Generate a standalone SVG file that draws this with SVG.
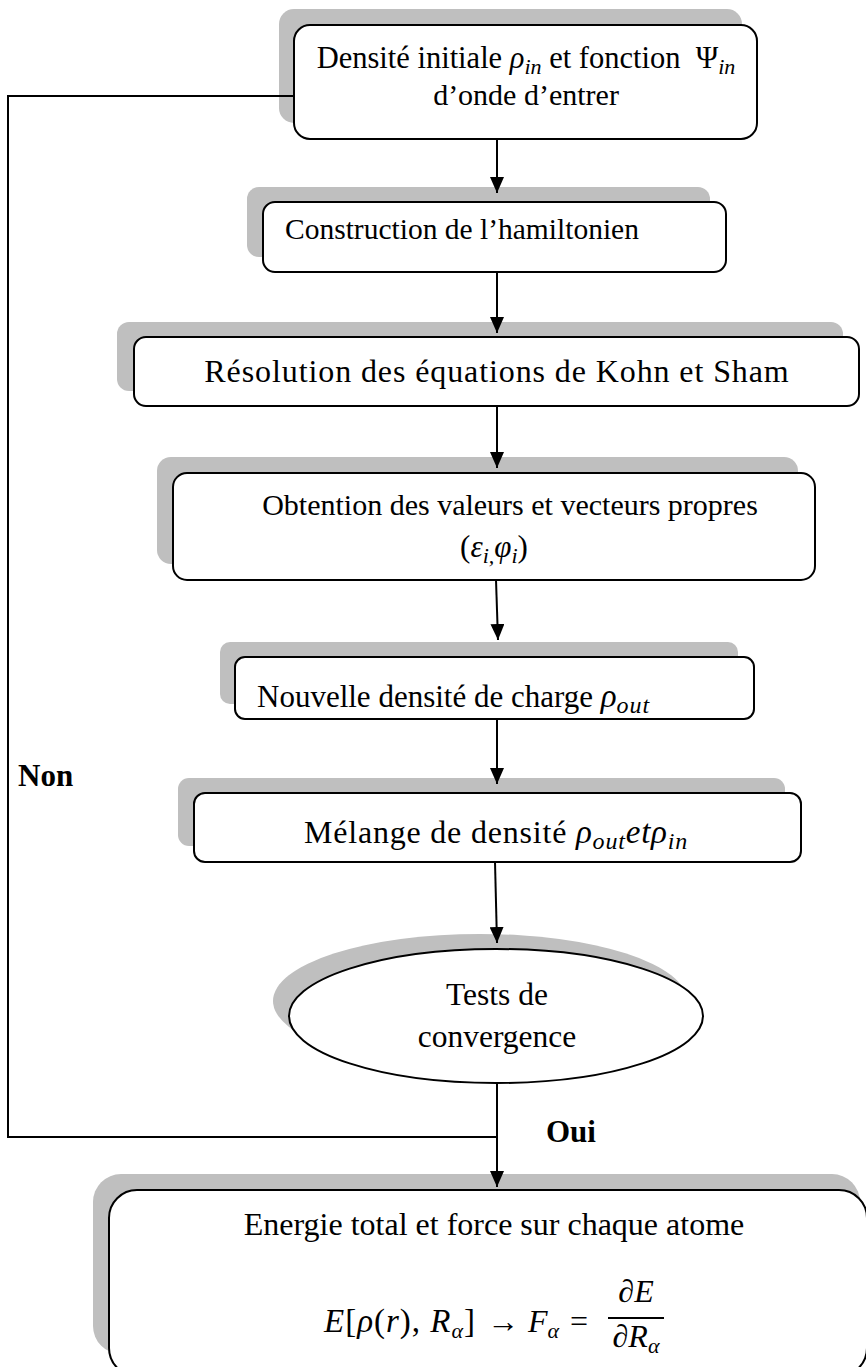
<svg xmlns="http://www.w3.org/2000/svg" width="866" height="1367" viewBox="0 0 866 1367">
<defs>
<style>
.sh{fill:#bfbfbf;stroke:none}
.bx{fill:#fff;stroke:#000;stroke-width:2}
.t{font-family:"Liberation Serif","Times New Roman",serif;font-size:30px;fill:#000}
.c{font-family:"Liberation Serif","Times New Roman",serif;font-size:32px;fill:#000}
.b{font-family:"Liberation Serif","Times New Roman",serif;font-size:31px;font-weight:bold;fill:#000}
.i{font-style:italic}
.s{font-size:22px;font-style:italic}
.ln{fill:none;stroke:#000;stroke-width:2}
</style>
<marker id="ah" viewBox="0 0 16 14" refX="16" refY="7" markerWidth="16" markerHeight="14" markerUnits="userSpaceOnUse" orient="auto">
<path d="M0,0 L16,7 L0,14 z" fill="#000"/>
</marker>
</defs>
<rect width="866" height="1367" fill="#fff"/>

<g id="n1">
<rect class="sh" x="279" y="9" width="463" height="114" rx="15"/>
<rect class="bx" x="294" y="25" width="463" height="114" rx="16"/>
<text class="t" x="526" y="68" text-anchor="middle" style="font-size:30.5px">Densité initiale <tspan class="i">ρ</tspan><tspan class="s" dy="6">in</tspan><tspan dy="-6"> et fonction &#160;Ψ</tspan><tspan class="s" dy="6">in</tspan></text>
<text class="t" x="526" y="105" text-anchor="middle">d’onde d’entrer</text>
</g>

<g id="n2">
<rect class="sh" x="247" y="187" width="463" height="70" rx="12"/>
<rect class="bx" x="263" y="202" width="463" height="70" rx="12"/>
<text class="t" x="285" y="239" style="font-size:29.5px">Construction de l’hamiltonien</text>
</g>

<g id="n3">
<rect class="sh" x="117" y="322" width="726" height="69" rx="12"/>
<rect class="bx" x="134" y="337" width="725" height="69" rx="12"/>
<text class="c" x="497" y="382" text-anchor="middle" letter-spacing="0.9">Résolution des équations de Kohn et Sham</text>
</g>

<g id="n4">
<rect class="sh" x="157" y="457" width="641" height="107" rx="14"/>
<rect class="bx" x="173" y="473" width="642" height="107" rx="14"/>
<text class="t" x="510" y="515" text-anchor="middle">Obtention des valeurs et vecteurs propres</text>
<text class="c" x="494" y="557" text-anchor="middle" style="font-size:31px">(<tspan class="i">ε</tspan><tspan class="s" dy="6">i,</tspan><tspan class="i" dy="-6">φ</tspan><tspan class="s" dy="6">i</tspan><tspan dy="-6">)</tspan></text>
</g>

<g id="n5">
<rect class="sh" x="220" y="642" width="518" height="62" rx="10"/>
<rect class="bx" x="235" y="657" width="519" height="62" rx="10"/>
<text class="t" x="257" y="707" style="font-size:31px">Nouvelle densité de charge <tspan class="i" style="font-size:33px">ρ</tspan><tspan class="s" dy="6" style="font-size:24px" letter-spacing="1">out</tspan></text>
</g>

<g id="n6">
<rect class="sh" x="178" y="778" width="607" height="68" rx="11"/>
<rect class="bx" x="194" y="793" width="607" height="69" rx="11"/>
<text class="c" x="496" y="843" text-anchor="middle" letter-spacing="0.8">Mélange de densité <tspan class="i" style="font-size:33px">ρ</tspan><tspan class="s" dy="6" style="font-size:24px">out</tspan><tspan class="i" dy="-6" style="font-size:33px">etρ</tspan><tspan class="s" dy="6" style="font-size:24px">in</tspan></text>
</g>

<g id="n7">
<ellipse class="sh" cx="480" cy="1001" rx="207" ry="67"/>
<ellipse class="bx" cx="496" cy="1016" rx="207" ry="67"/>
<text class="t" x="497" y="1005" text-anchor="middle" style="font-size:31.5px">Tests de</text>
<text class="t" x="497" y="1047" text-anchor="middle" style="font-size:31.5px">convergence</text>
</g>

<g id="n8">
<rect class="sh" x="93" y="1174" width="767" height="180" rx="28"/>
<rect class="bx" x="109" y="1190" width="758" height="186" rx="28"/>
<text class="t" x="494" y="1235" text-anchor="middle" style="font-size:32px">Energie total et force sur chaque atome</text>
<text class="c" x="324" y="1332" style="font-size:33px" letter-spacing="1"><tspan class="i">E</tspan>[<tspan class="i">ρ</tspan>(<tspan class="i">r</tspan>), <tspan class="i">R</tspan><tspan class="s" dy="6">α</tspan><tspan dy="-6">]</tspan></text>
<text class="c" x="487" y="1332">→</text>
<text class="c" x="528" y="1332"><tspan class="i">F</tspan><tspan class="s" dy="6">α</tspan></text>
<text class="c" x="570" y="1332">=</text>
<text class="c" x="636" y="1302" text-anchor="middle">∂<tspan class="i">E</tspan></text>
<line x1="608" y1="1318" x2="664" y2="1318" stroke="#000" stroke-width="2"/>
<text class="c" x="636" y="1347" text-anchor="middle">∂<tspan class="i">R</tspan><tspan class="s" dy="6">α</tspan></text>
</g>

<g id="connectors">
<line class="ln" x1="497" y1="139" x2="497" y2="193" marker-end="url(#ah)"/>
<line class="ln" x1="497" y1="272" x2="497" y2="333" marker-end="url(#ah)"/>
<line class="ln" x1="497" y1="406" x2="497" y2="468" marker-end="url(#ah)"/>
<line class="ln" x1="496" y1="580" x2="498" y2="640" marker-end="url(#ah)"/>
<line class="ln" x1="497" y1="719" x2="497" y2="784" marker-end="url(#ah)"/>
<line class="ln" x1="495" y1="862" x2="497" y2="943" marker-end="url(#ah)"/>
<line class="ln" x1="497" y1="1084" x2="497" y2="1187" marker-end="url(#ah)"/>
<polyline class="ln" points="497,1137 8,1137 8,96 294,96"/>
<text class="b" x="18" y="786">Non</text>
<text class="b" x="546" y="1142">Oui</text>
</g>
</svg>
